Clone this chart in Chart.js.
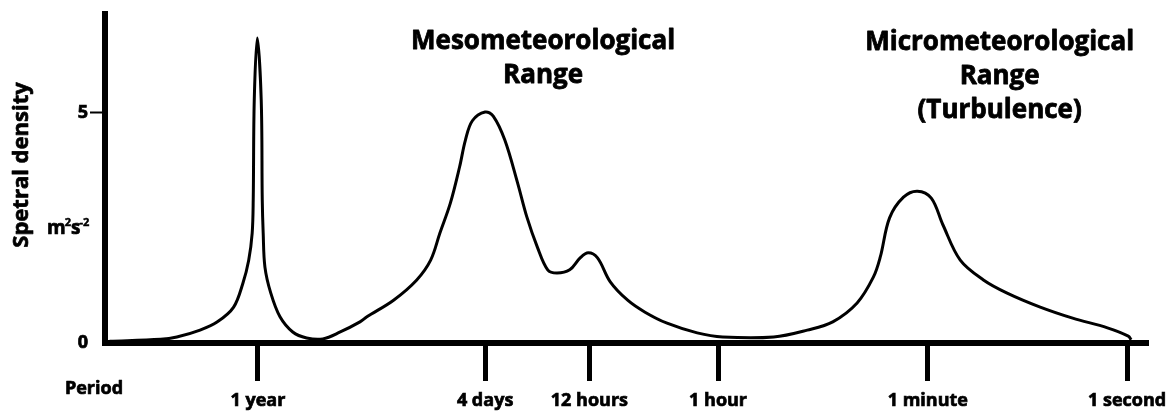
<!DOCTYPE html>
<html>
<head>
<meta charset="utf-8">
<script src="https://cdn.jsdelivr.net/npm/chart.js@4.4.1/dist/chart.umd.min.js"></script>
<style>
  html, body { margin: 0; padding: 0; background: #fff; }
  canvas { display: block; }
</style>
</head>
<body>
<canvas id="spectrum" width="1169" height="412"></canvas>
<script>
// x = log10 of frequency (1/period in seconds), y = spectral density
const curveX = [-8.78, -8.34, -8.20, -8.00, -7.85, -7.71, -7.63, -7.58, -7.55, -7.541, -7.532, -7.506,
  -7.472, -7.463, -7.455, -7.44, -7.39, -7.31, -7.20, -7.08, -6.94, -6.79, -6.62, -6.56, -6.33, -6.13,
  -6.01, -5.93, -5.84, -5.76, -5.71, -5.65, -5.54, -5.47, -5.37, -5.26, -5.18, -5.09, -5.00, -4.92,
  -4.81, -4.72, -4.65, -4.57, -4.46, -4.31, -4.16, -3.97, -3.71, -3.49, -3.05, -2.76, -2.54, -2.33,
  -2.19, -2.13, -2.05, -1.93, -1.81, -1.69, -1.59, -1.44, -1.24, -1.04, -0.75,
  -0.47, -0.17, 0.01, 0.035];
const curveY = [0.04, 0.08, 0.13, 0.28, 0.46, 0.78, 1.30, 1.80, 2.39, 3.11, 5.28, 6.63,
  5.28, 3.11, 2.39, 1.65, 1.09, 0.57, 0.24, 0.11, 0.09, 0.24, 0.46, 0.57, 0.93, 1.37,
  1.80, 2.39, 3.04, 3.83, 4.41, 4.83, 5.02, 4.93, 4.41, 3.48, 2.74, 2.09, 1.59, 1.52,
  1.59, 1.85, 1.96, 1.85, 1.33, 0.93, 0.67, 0.43, 0.22, 0.13, 0.13, 0.28, 0.46, 0.87,
  1.43, 1.87, 2.72, 3.17, 3.30, 3.15, 2.57, 1.80, 1.37, 1.09, 0.78,
  0.54, 0.33, 0.15, 0.07];

const periodTicks = [-7.5, -5.54, -4.64, -3.53, -1.72, 0];
const periodLabels = ['1 year', '4 days', '12 hours', '1 hour', '1 minute', '1 second'];
const densityTicks = [0, 5];

const mesoLines = ['Mesometeorological', 'Range'];
const microLines = ['Micrometeorological', 'Range', '(Turbulence)'];
const mesoCenter = -5.04;
const microCenter = -1.10;

const points = curveX.map((x, i) => ({ x: x, y: curveY[i] }));
const FONT = "'Open Sans', sans-serif";

function boldText(ctx, t, x, y, w) {
  ctx.lineWidth = w;
  ctx.strokeText(t, x, y);
  ctx.fillText(t, x, y);
}

const labelsPlugin = {
  id: 'labels',
  afterDraw(chart) {
    const ctx = chart.ctx;
    const xs = chart.scales.x;
    const top = chart.chartArea.top;
    ctx.save();
    ctx.fillStyle = '#000';
    ctx.strokeStyle = '#000';
    ctx.lineJoin = 'round';
    ctx.font = '700 26px ' + FONT;
    ctx.textAlign = 'center';
    ctx.textBaseline = 'alphabetic';
    mesoLines.forEach((t, i) => boldText(ctx, t, xs.getPixelForValue(mesoCenter), top + 35 + i * 34, 0.8));
    microLines.forEach((t, i) => boldText(ctx, t, xs.getPixelForValue(microCenter), top + 36 + i * 34, 0.8));

    ctx.font = '700 18px ' + FONT;
    ctx.textBaseline = 'middle';
    boldText(ctx, 'Period', 94, 389, 0.7);

    // unit label: m² s⁻²
    ctx.textAlign = 'left';
    ctx.textBaseline = 'alphabetic';
    let x = 47;
    const base = 234;
    ctx.font = '700 19px ' + FONT;
    boldText(ctx, 'm', x, base, 0.7);
    x += ctx.measureText('m').width - 1;
    ctx.font = '700 11px ' + FONT;
    boldText(ctx, '2', x, base - 8, 0.5);
    x += ctx.measureText('2').width;
    ctx.font = '700 19px ' + FONT;
    boldText(ctx, 's', x, base, 0.7);
    x += ctx.measureText('s').width - 1;
    ctx.font = '700 11px ' + FONT;
    boldText(ctx, '-2', x, base - 8, 0.5);

    ctx.translate(22, 165);
    ctx.rotate(-Math.PI / 2);
    ctx.textAlign = 'center';
    ctx.textBaseline = 'middle';
    ctx.font = '700 22px ' + FONT;
    boldText(ctx, 'Spetral density', 0, 0, 0.7);
    ctx.restore();
  }
};

new Chart(document.getElementById('spectrum'), {
  type: 'line',
  data: {
    datasets: [{
      data: points,
      borderColor: '#000',
      borderWidth: 3,
      pointRadius: 0,
      fill: false,
      tension: 0.35
    }]
  },
  options: {
    responsive: false,
    animation: false,
    devicePixelRatio: 1,
    layout: { padding: { top: 14, right: 21, left: 0, bottom: 0 } },
    plugins: { legend: { display: false }, tooltip: { enabled: false } },
    scales: {
      x: {
        type: 'linear',
        min: -8.82,
        max: 0.18,
        afterFit: (s) => { s.height = 69; s.paddingLeft = 0; s.paddingRight = 0; },
        afterBuildTicks: (s) => { s.ticks = periodTicks.map(v => ({ value: v })); },
        border: { display: true, color: '#000', width: 6 },
        grid: { drawOnChartArea: false, drawTicks: true, tickLength: 38, tickWidth: 5, tickColor: '#000' },
        ticks: {
          autoSkip: false,
          maxRotation: 0,
          padding: 9,
          color: '#000',
          textStrokeColor: '#000',
          textStrokeWidth: 0.7,
          font: { family: FONT, weight: 700, size: 18 },
          callback: (v, i) => periodLabels[i]
        }
      },
      y: {
        min: 0,
        max: 7.15,
        afterFit: (s) => { s.width = 105; s.paddingTop = 0; s.paddingBottom = 0; },
        afterBuildTicks: (s) => { s.ticks = densityTicks.map(v => ({ value: v })); },
        border: { display: true, color: '#000', width: 6 },
        grid: {
          drawOnChartArea: false,
          drawTicks: true,
          tickLength: 15,
          tickWidth: 2,
          tickColor: (c) => (c.tick && c.tick.value === 5 ? '#000' : 'rgba(0,0,0,0)')
        },
        ticks: {
          padding: 2,
          color: '#000',
          textStrokeColor: '#000',
          textStrokeWidth: 0.7,
          font: { family: FONT, weight: 700, size: 18 }
        }
      }
    }
  },
  plugins: [labelsPlugin]
});
</script>
</body>
</html>
